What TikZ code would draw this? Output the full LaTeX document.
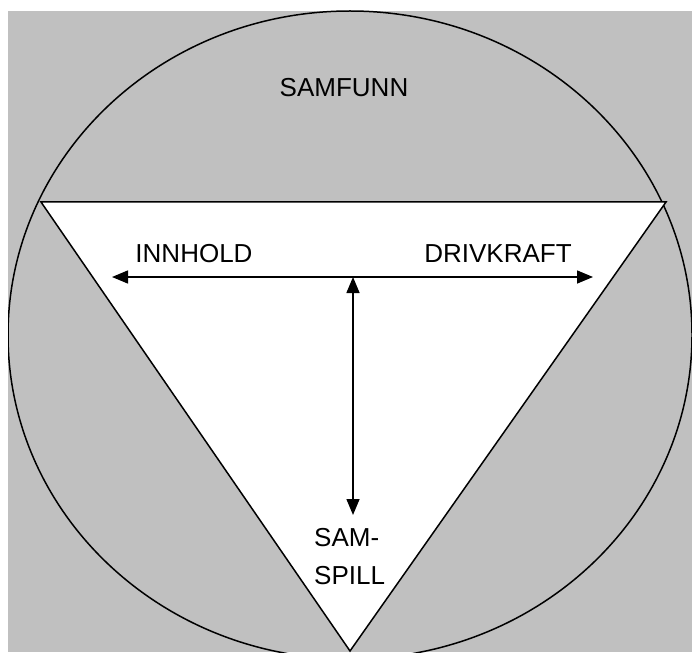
\documentclass[tikz,border=0pt]{standalone}
\usepackage{fontspec}
\setmainfont{Liberation Sans}
\usetikzlibrary{arrows.meta}
\definecolor{bggray}{RGB}{192,192,192}
\begin{document}
\begin{tikzpicture}[x=1pt,y=-1pt,
  lbl/.style={font=\fontsize{26}{38}\selectfont, inner sep=0pt},
  dbl/.style={line width=1.5pt, {Triangle[length=16pt,width=13pt]}-{Triangle[length=16pt,width=13pt]}}]
\useasboundingbox (0,0) rectangle (692,652);
\fill[bggray] (8,11) rectangle (692,652);
\begin{scope}
\clip (8,11) rectangle (692,652);
\draw[line width=1.5pt] (350,335) ellipse [x radius=342, y radius=324];
\end{scope}
\coordinate (tl) at (41,202);
\coordinate (tr) at (666,202);
\coordinate (bt) at (350,651);
\filldraw[fill=white, line width=1.5pt, line join=miter] (tl) -- (tr) -- (bt) -- cycle;
\coordinate (hl) at (112,277);
\coordinate (hr) at (593,277);
\coordinate (vt) at (353,277);
\coordinate (vb) at (353,515);
\draw[dbl] (hl) -- (hr);
\draw[dbl] (vt) -- (vb);
\node[lbl, anchor=base] (samfunn) at (344,97) {SAMFUNN};
\node[lbl, anchor=base] (innhold) at (194,262) {INNHOLD};
\node[lbl, anchor=base] (drivkraft) at (498,262) {DRIVKRAFT};
\node[lbl, anchor=base west, align=left] (samspill) at (314,584) {SAM-\\SPILL};
\end{tikzpicture}
\end{document}
